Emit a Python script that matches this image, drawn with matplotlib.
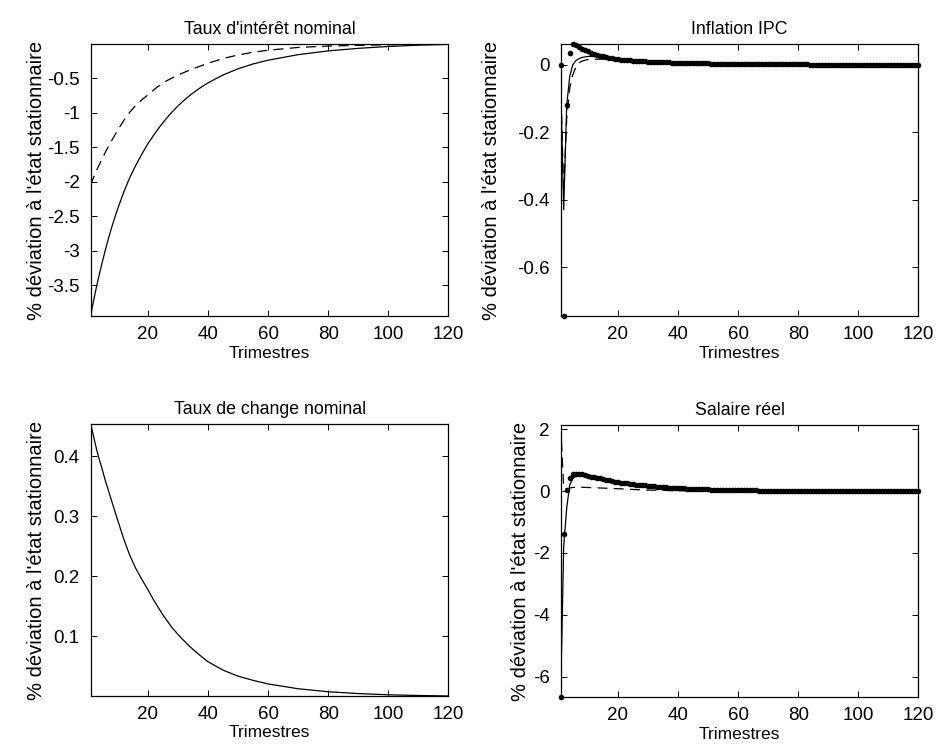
#!/usr/bin/env python3

"""impulse responses plot: 4 panels, MATLAB style"""

import matplotlib
matplotlib.use('Agg')
import matplotlib.pyplot as plt

plt.rcParams['font.family'] = ['Liberation Sans', 'DejaVu Sans']

#quarters
quarters = list(range(1, 121))
ticks_x = [20, 40, 60, 80, 100, 120]

#Taux d'intérêt nominal
rate_t = [1, 2, 3, 4, 5, 6, 7, 8, 9, 10, 12, 14, 16, 18, 20, 22, 24, 26, 28, 30, 32, 34,
          36, 38, 40, 45, 50, 55, 60, 70, 80, 90, 100, 110, 120]
rate_solid = [-3.94, -3.72, -3.51, -3.32, -3.14, -2.97, -2.81, -2.66, -2.52, -2.39, -2.15,
              -1.94, -1.76, -1.60, -1.45, -1.32, -1.20, -1.09, -0.99, -0.90, -0.82,
              -0.745, -0.68, -0.62, -0.565, -0.45, -0.36, -0.29, -0.235, -0.155, -0.10,
              -0.063, -0.036, -0.017, -0.005]
rate_dash_t = [1, 2, 3, 4, 5, 6, 7, 8, 10, 12, 14, 16, 18, 20, 23, 26, 30, 35, 40, 45, 50,
               55, 60, 70, 80, 90, 100, 120]
rate_dash = [-2.05, -1.93, -1.83, -1.74, -1.65, -1.56, -1.48, -1.40, -1.25, -1.11, -0.99,
             -0.89, -0.81, -0.74, -0.63, -0.54, -0.45, -0.36, -0.28, -0.21, -0.16, -0.12,
             -0.09, -0.05, -0.03, -0.02, -0.01, 0.0]

#Inflation IPC
infl_t = [1, 2, 3, 4, 5, 6, 7, 8, 10, 12, 15, 20, 30, 40, 50, 60, 80, 100, 120]
infl_solid = [-0.05, -0.43, -0.12, -0.035, 0.0, 0.012, 0.018, 0.022, 0.025, 0.025, 0.023,
              0.017, 0.010, 0.007, 0.005, 0.003, 0.0015, 0.0007, 0.0003]
infl_dash = [-0.05, -0.38, -0.16, -0.07, -0.03, -0.008, 0.005, 0.011, 0.016, 0.017, 0.017,
             0.015, 0.010, 0.007, 0.005, 0.003, 0.0015, 0.0007, 0.0003]
infl_dots = [0.0, -0.745, -0.12, 0.035, 0.062, 0.058, 0.053, 0.048, 0.044, 0.040,
             0.036, 0.033, 0.030, 0.027, 0.025, 0.023, 0.021, 0.019, 0.018, 0.017,
             0.016, 0.015, 0.014, 0.014, 0.013, 0.012, 0.012, 0.011, 0.011, 0.010,
             0.010, 0.009, 0.009, 0.009, 0.008, 0.008, 0.008, 0.007, 0.007, 0.007,
             0.007, 0.006, 0.006, 0.006, 0.006, 0.005, 0.005, 0.005, 0.005, 0.005,
             0.004, 0.004, 0.004, 0.004, 0.004, 0.004, 0.004, 0.003, 0.003, 0.003,
             0.003, 0.003, 0.003, 0.003, 0.003, 0.003, 0.002, 0.002, 0.002, 0.002,
             0.002, 0.002, 0.002, 0.002, 0.002, 0.002, 0.002, 0.002, 0.002, 0.002,
             0.002, 0.002, 0.002, 0.001, 0.001, 0.001, 0.001, 0.001, 0.001, 0.001,
             0.001, 0.001, 0.001, 0.001, 0.001, 0.001, 0.001, 0.001, 0.001, 0.001,
             0.001, 0.001, 0.001, 0.001, 0.001, 0.0, 0.0, 0.0, 0.0, 0.0,
             0.0, 0.0, 0.0, 0.0, 0.0, 0.0, 0.0, 0.0, 0.0, 0.0]

#Taux de change nominal
fx_t = [1, 2, 3, 4, 5, 6, 8, 10, 12, 14, 16, 18, 20, 22, 25, 28, 31, 34, 37, 40, 45, 50,
        55, 60, 70, 80, 90, 100, 110, 120]
fx_solid = [0.4535, 0.432, 0.41, 0.392, 0.375, 0.357, 0.325, 0.293, 0.262, 0.235, 0.213,
            0.195, 0.178, 0.16, 0.136, 0.115, 0.098, 0.083, 0.070, 0.058, 0.044, 0.034,
            0.027, 0.021, 0.013, 0.008, 0.005, 0.003, 0.0018, 0.001]

#Salaire réel
wage_t = [1, 2, 3, 4, 5, 6, 7, 8, 10, 12, 15, 20, 30, 40, 50, 60, 80, 100, 120]
wage_solid = [-6.6, -1.8, -0.55, 0.2, 0.4, 0.48, 0.51, 0.52, 0.50, 0.46, 0.39, 0.30,
              0.175, 0.10, 0.056, 0.031, 0.010, 0.004, 0.002]
wage_dash_t = [1, 2, 3, 4, 5, 7, 10, 15, 20, 25, 30, 40, 50, 60, 80, 100, 120]
wage_dash = [2.14, 0.10, 0.06, 0.10, 0.12, 0.13, 0.12, 0.10, 0.08, 0.055, 0.035, 0.015,
             0.007, 0.003, 0.001, 0.0, 0.0]
wage_dots = [-6.66, -1.39, 0.03, 0.42, 0.54, 0.57, 0.56, 0.54, 0.52, 0.50,
             0.47, 0.45, 0.43, 0.41, 0.39, 0.37, 0.35, 0.33, 0.31, 0.30,
             0.28, 0.27, 0.255, 0.24, 0.23, 0.215, 0.205, 0.195, 0.185, 0.175,
             0.165, 0.155, 0.147, 0.139, 0.131, 0.124, 0.117, 0.110, 0.104, 0.098,
             0.093, 0.088, 0.083, 0.078, 0.074, 0.070, 0.066, 0.062, 0.059, 0.056,
             0.053, 0.050, 0.047, 0.044, 0.042, 0.040, 0.037, 0.035, 0.033, 0.031,
             0.030, 0.028, 0.026, 0.025, 0.024, 0.022, 0.021, 0.020, 0.019, 0.018,
             0.017, 0.016, 0.015, 0.014, 0.013, 0.013, 0.012, 0.011, 0.011, 0.010,
             0.010, 0.009, 0.009, 0.008, 0.008, 0.007, 0.007, 0.007, 0.006, 0.006,
             0.006, 0.005, 0.005, 0.005, 0.005, 0.004, 0.004, 0.004, 0.004, 0.004,
             0.003, 0.003, 0.003, 0.003, 0.003, 0.003, 0.003, 0.003, 0.003, 0.003,
             0.002, 0.002, 0.002, 0.002, 0.002, 0.002, 0.002, 0.002, 0.002, 0.002]

#y ticks per panel
rate_ticks = [-3.5, -3, -2.5, -2, -1.5, -1, -0.5]
rate_labels = ['-3.5', '-3', '-2.5', '-2', '-1.5', '-1', '-0.5']
infl_ticks = [-0.6, -0.4, -0.2, 0]
infl_labels = ['-0.6', '-0.4', '-0.2', '0']
fx_ticks = [0.1, 0.2, 0.3, 0.4]
fx_labels = ['0.1', '0.2', '0.3', '0.4']
wage_ticks = [-6, -4, -2, 0, 2]
wage_labels = ['-6', '-4', '-2', '0', '2']

DASH = (0, (8, 5))
LW = 0.9


def style_axes(ax, title, yticks, ylabels, ylim, ylab_x):
    """ MATLAB-like axes: box, inward ticks on all sides, tight limits """
    ax.set_xlim(1, 120)
    ax.set_ylim(ylim)
    ax.set_xticks(ticks_x)
    ax.set_xticklabels([str(t) for t in ticks_x])
    ax.set_yticks(yticks)
    ax.set_yticklabels(ylabels)
    ax.tick_params(direction='in', top=True, right=True, length=4, width=0.7,
                   labelsize=13.5)
    ax.tick_params(axis='y', pad=8)
    ax.tick_params(axis='x', pad=7)
    for sp in ax.spines.values():
        sp.set_linewidth(0.9)
    ax.set_title(title, fontsize=12.75, pad=7)
    ax.set_xlabel('Trimestres', fontsize=12.5, labelpad=2)
    ax.set_ylabel("% déviation à l'état stationnaire", fontsize=14.5)
    #ylabel placement differs per panel (as in the original)
    ax.yaxis.set_label_coords(ylab_x, 0.5)


fig = plt.figure(figsize=(9.39, 7.56), dpi=100)

w, h = 0.3810, 0.3598
ax1 = fig.add_axes([0.0966, 0.582, w, h])
ax2 = fig.add_axes([0.5971, 0.582, w, h])
ax3 = fig.add_axes([0.0966, 0.0794, w, h])
ax4 = fig.add_axes([0.5971, 0.0780, w, h])

#nominal interest rate
ax1.plot(rate_t, rate_solid, color='k', lw=LW)
ax1.plot(rate_dash_t, rate_dash, color='k', lw=LW, linestyle=DASH)
style_axes(ax1, "Taux d'intérêt nominal", rate_ticks, rate_labels, (-3.95, 0.0), -0.125)

#CPI inflation
ax2.plot(infl_t, infl_solid, color='k', lw=LW)
ax2.plot(infl_t, infl_dash, color='k', lw=LW, linestyle=DASH)
ax2.plot(quarters, infl_dots, color='k', linestyle='none', marker='o', ms=3.0,
         clip_on=False)
style_axes(ax2, 'Inflation IPC', infl_ticks, infl_labels,
           (min(infl_dots), max(infl_dots)), -0.167)

#nominal exchange rate
ax3.plot(fx_t, fx_solid, color='k', lw=LW)
style_axes(ax3, 'Taux de change nominal', fx_ticks, fx_labels,
           (min(fx_solid), max(fx_solid)), -0.125)

#real wage
ax4.plot(wage_t, wage_solid, color='k', lw=LW)
ax4.plot(wage_dash_t, wage_dash, color='k', lw=LW, linestyle=DASH)
ax4.plot(quarters, wage_dots, color='k', linestyle='none', marker='o', ms=3.0,
         clip_on=False)
style_axes(ax4, 'Salaire réel', wage_ticks, wage_labels,
           (min(wage_dots), max(wage_dash)), -0.086)

plt.savefig('out.png', dpi=100)
